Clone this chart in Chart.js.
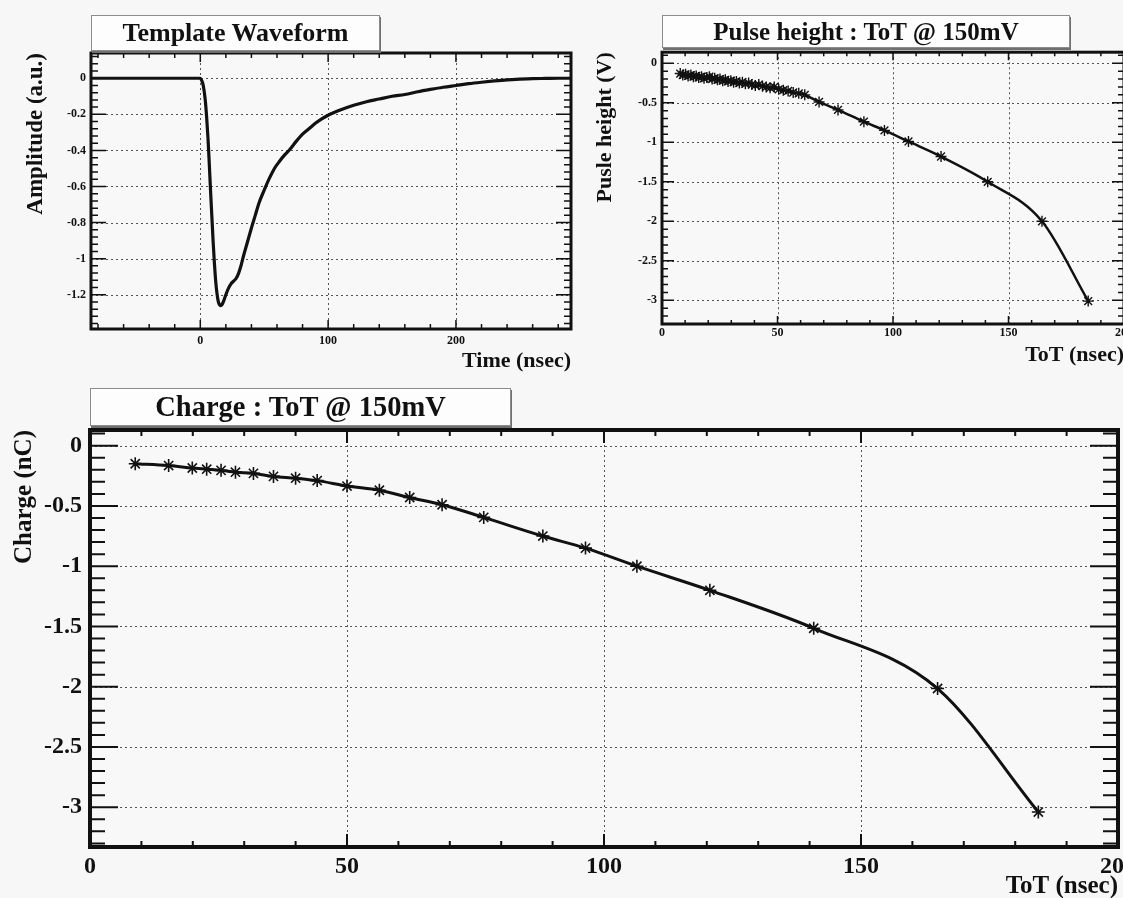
<!DOCTYPE html>
<html lang="en">
<head>
<meta charset="UTF-8">
<title>ToT calibration</title>
<script src="https://cdn.jsdelivr.net/npm/chart.js@4"></script>
<style>
    body { margin: 0; background: #f7f7f7; overflow: hidden; width: 1123px; height: 898px; position: relative; }
    .pad { position: absolute; }
    .tbox {
        position: absolute; box-sizing: border-box; z-index: 2;
        background: #fdfdfd; border: 1px solid #8c8c8c; box-shadow: 1px 2px 0 #707070;
        display: flex; align-items: center; justify-content: center;
        font-family: "Liberation Serif", serif; font-weight: bold; color: #111;
    }
</style>
</head>
<body>

<!-- titre des trois pads -->
<div class="tbox" style="left:91px;top:15px;width:289px;height:36px;font-size:26px">Template Waveform</div>
<div class="tbox" style="left:662px;top:15px;width:408px;height:33px;font-size:25px">Pulse height : ToT @ 150mV</div>
<div class="tbox" style="left:90px;top:388px;width:421px;height:38px;font-size:28.5px">Charge : ToT @ 150mV</div>

<div class="pad" style="left:0px;top:40px"><canvas id="cWave" width="590" height="340"></canvas></div>
<div class="pad" style="left:560px;top:40px"><canvas id="cPulse" width="620" height="340"></canvas></div>
<div class="pad" style="left:0px;top:380px"><canvas id="cCharge" width="1180" height="540"></canvas></div>

<script>
// --- data ---
// template waveform
const waveTime = [-85.5, -40, 0, 1, 2, 3, 4, 5, 6, 7, 8, 9, 10, 11, 12, 13, 14, 15, 16, 17, 18, 20, 22, 24, 26, 28,
    30, 32, 34, 36, 38, 40, 43, 46, 50, 54, 58, 62, 66, 70, 75, 80, 85, 90, 95, 100, 110, 120, 130, 140, 150,
    160, 170, 180, 190, 200, 210, 220, 230, 240, 250, 260, 270, 280, 290];
const waveAmp = [0, 0, 0, -0.01, -0.03, -0.07, -0.13, -0.22, -0.33, -0.47, -0.62, -0.76, -0.90, -1.02, -1.12, -1.19,
    -1.235, -1.255, -1.26, -1.255, -1.24, -1.20, -1.165, -1.14, -1.125, -1.11,
    -1.08, -1.035, -0.98, -0.93, -0.88, -0.83, -0.76, -0.69, -0.62, -0.555, -0.50, -0.46, -0.425, -0.395, -0.35,
    -0.31, -0.28, -0.25, -0.225, -0.205, -0.175, -0.15, -0.13, -0.115, -0.10,
    -0.09, -0.075, -0.062, -0.05, -0.04, -0.03, -0.022, -0.015, -0.009, -0.005, -0.002, -0.001, 0, 0];

// pulse height vs ToT
const pulseToT = [7.9, 9.0, 10.2, 11.3, 12.5, 13.6, 14.8, 15.9, 17.1, 18.2, 19.4, 20.5, 21.7, 22.8, 24.0, 25.1,
    26.3, 27.4, 28.6, 29.8, 31.0, 32.2, 33.5, 34.8, 36.1, 37.5, 38.9, 40.4, 41.9, 43.5, 45.1, 46.8, 48.6,
    50.5, 52.5, 54.6, 56.8, 59.2, 61.8, 68.0, 76.2, 87.4, 96.3, 106.7, 120.8, 141.0, 164.5, 184.5];
const pulseHeight = [-0.13, -0.15, -0.14, -0.16, -0.15, -0.17, -0.16, -0.18, -0.17, -0.19, -0.18, -0.17, -0.20,
    -0.19, -0.21, -0.20, -0.22, -0.21, -0.23, -0.22, -0.24, -0.23, -0.25, -0.24, -0.26, -0.25, -0.27, -0.28,
    -0.27, -0.29, -0.30, -0.31, -0.30, -0.33, -0.34, -0.35, -0.37, -0.38, -0.40, -0.49, -0.59, -0.74, -0.85,
    -0.99, -1.18, -1.50, -2.00, -3.01];

// charge vs ToT
const chargeToT = [8.8, 15.3, 19.9, 22.7, 25.5, 28.3, 31.8, 35.7, 40.0, 44.2, 50.0, 56.3, 62.2, 68.5, 76.6,
    88.1, 96.4, 106.4, 120.6, 140.8, 164.9, 184.5];
const charge = [-0.15, -0.165, -0.185, -0.195, -0.205, -0.22, -0.23, -0.255, -0.27, -0.29, -0.335, -0.37,
    -0.43, -0.49, -0.595, -0.75, -0.85, -1.0, -1.2, -1.515, -2.015, -3.04];

const serif = '"Liberation Serif", "Times New Roman", serif';
const ink = '#111';

function pts(xs, ys) {
    return xs.map((v, i) => ({ x: v, y: ys[i] }));
}

// format a la ROOT : 0, -0.2, -1 (pas de -1.0)
function fmt(v) {
    return String(+Number(v).toFixed(3));
}

function stepEach(min, max, step, fn) {
    for (let k = Math.ceil(min / step - 1e-9); k * step <= max + 1e-9; k++) fn(k * step);
}

function isMultiple(v, m) {
    return Math.abs(v / m - Math.round(v / m)) < 1e-6;
}

// cadre, grille pointillee et graduations interieures (style ROOT)
const rootFrame = {
    id: 'rootFrame',
    beforeDatasetsDraw(chart, args, o) {
        const { ctx, chartArea: a } = chart;
        const sx = chart.scales.x, sy = chart.scales.y;
        ctx.save();
        ctx.fillStyle = o.fill;
        ctx.fillRect(a.left, a.top, a.right - a.left, a.bottom - a.top);
        ctx.strokeStyle = o.gridColor;
        ctx.lineWidth = 1;
        ctx.setLineDash(o.dash);
        ctx.beginPath();
        sx.ticks.forEach(t => {
            const px = Math.round(sx.getPixelForValue(t.value)) + 0.5;
            ctx.moveTo(px, a.top); ctx.lineTo(px, a.bottom);
        });
        sy.ticks.forEach(t => {
            const py = Math.round(sy.getPixelForValue(t.value)) + 0.5;
            ctx.moveTo(a.left, py); ctx.lineTo(a.right, py);
        });
        ctx.stroke();
        ctx.restore();
    },
    afterDatasetsDraw(chart, args, o) {
        const { ctx, chartArea: a } = chart;
        const sx = chart.scales.x, sy = chart.scales.y;
        ctx.save();
        ctx.strokeStyle = ink;
        ctx.lineWidth = o.tickWidth;
        ctx.beginPath();
        stepEach(sx.min, sx.max, o.xMinor, v => {
            const len = isMultiple(v, o.xMajor) ? o.xMajorLen : o.xMinorLen;
            const px = sx.getPixelForValue(v);
            ctx.moveTo(px, a.bottom); ctx.lineTo(px, a.bottom - len);
            ctx.moveTo(px, a.top); ctx.lineTo(px, a.top + len);
        });
        stepEach(sy.min, sy.max, o.yMinor, v => {
            const len = isMultiple(v, o.yMajor) ? o.yMajorLen : o.yMinorLen;
            const py = sy.getPixelForValue(v);
            ctx.moveTo(a.left, py); ctx.lineTo(a.left + len, py);
            ctx.moveTo(a.right, py); ctx.lineTo(a.right - len, py);
        });
        ctx.stroke();
        ctx.lineWidth = o.frameWidth;
        ctx.strokeRect(a.left, a.top, a.right - a.left, a.bottom - a.top);
        ctx.restore();
    }
};

function axis(c) {
    return {
        type: 'linear',
        min: c.min,
        max: c.max,
        afterFit: c.fit,
        grid: { display: false, drawTicks: false },
        border: { display: false },
        ticks: {
            stepSize: c.step,
            includeBounds: false,
            autoSkip: false,
            maxRotation: 0,
            padding: c.tickPad,
            color: ink,
            font: { family: serif, size: c.tickSize, weight: 'bold' },
            callback: fmt
        },
        title: {
            display: true,
            text: c.title,
            align: 'end',
            color: ink,
            padding: c.titlePad,
            font: { family: serif, size: c.titleSize, weight: 'bold' }
        }
    };
}

function makePad(id, cfg) {
    new Chart(document.getElementById(id), {
        type: 'scatter',
        data: { datasets: [cfg.dataset] },
        options: {
            responsive: false,
            animation: false,
            events: [],
            layout: { padding: cfg.padding },
            scales: { x: axis(cfg.x), y: axis(cfg.y) },
            plugins: {
                legend: { display: false },
                tooltip: { enabled: false },
                rootFrame: cfg.frame
            }
        },
        plugins: [rootFrame]
    });
}

// --- Template Waveform ---
makePad('cWave', {
    padding: { top: 13, right: 19, bottom: 0, left: 0 },
    dataset: {
        data: pts(waveTime, waveAmp),
        showLine: true,
        pointRadius: 0,
        borderColor: ink,
        borderWidth: 3.2,
        cubicInterpolationMode: 'monotone'
    },
    x: { min: -85.5, max: 290, step: 100, fit: s => { s.height = 51; }, tickPad: 5, tickSize: 12,
         title: 'Time (nsec)', titleSize: 22, titlePad: { top: 0, bottom: 5 } },
    y: { min: -1.39, max: 0.14, step: 0.2, fit: s => { s.width = 91; }, tickPad: 5, tickSize: 12,
         title: 'Amplitude (a.u.)', titleSize: 23, titlePad: { top: 22, bottom: 0 } },
    frame: { fill: '#f8f8f8', gridColor: '#555', dash: [2, 3], tickWidth: 1.5, frameWidth: 3,
             xMajor: 100, xMinor: 20, xMajorLen: 9, xMinorLen: 5,
             yMajor: 0.2, yMinor: 0.04, yMajorLen: 15, yMinorLen: 7 }
});

// --- Pulse height : ToT ---
makePad('cPulse', {
    padding: { top: 12, right: 56, bottom: 0, left: 0 },
    dataset: {
        data: pts(pulseToT, pulseHeight),
        showLine: true,
        borderColor: ink,
        borderWidth: 2.5,
        cubicInterpolationMode: 'monotone',
        pointStyle: 'star',
        pointRadius: 5.5,
        pointBorderWidth: 1.4,
        pointBorderColor: ink,
        pointBackgroundColor: ink
    },
    x: { min: 0, max: 200, step: 50, fit: s => { s.height = 56; }, tickPad: 2, tickSize: 12,
         title: 'ToT (nsec)', titleSize: 22, titlePad: { top: 0, bottom: 11 } },
    y: { min: -3.3, max: 0.14, step: 0.5, fit: s => { s.width = 102; }, tickPad: 5, tickSize: 12,
         title: 'Pusle height (V)', titleSize: 22, titlePad: { top: 32, bottom: 0 } },
    frame: { fill: '#f8f8f8', gridColor: '#555', dash: [2, 3], tickWidth: 1.5, frameWidth: 3,
             xMajor: 50, xMinor: 10, xMajorLen: 8, xMinorLen: 4,
             yMajor: 0.5, yMinor: 0.1, yMajorLen: 12, yMinorLen: 6 }
});

// --- Charge : ToT ---
makePad('cCharge', {
    padding: { top: 50, right: 62, bottom: 0, left: 0 },
    dataset: {
        data: pts(chargeToT, charge),
        showLine: true,
        borderColor: ink,
        borderWidth: 3,
        cubicInterpolationMode: 'monotone',
        pointStyle: 'star',
        pointRadius: 6.5,
        pointBorderWidth: 1.6,
        pointBorderColor: ink,
        pointBackgroundColor: ink
    },
    x: { min: 0, max: 200, step: 50, fit: s => { s.height = 73; }, tickPad: 5, tickSize: 24,
         title: 'ToT (nsec)', titleSize: 25, titlePad: { top: 0, bottom: 18 } },
    y: { min: -3.33, max: 0.13, step: 0.5, fit: s => { s.width = 90; }, tickPad: 8, tickSize: 24,
         title: 'Charge (nC)', titleSize: 25, titlePad: { top: 10, bottom: 0 } },
    frame: { fill: '#f8f8f8', gridColor: '#555', dash: [2, 3], tickWidth: 2, frameWidth: 4,
             xMajor: 50, xMinor: 10, xMajorLen: 13, xMinorLen: 6,
             yMajor: 0.5, yMinor: 0.1, yMajorLen: 28, yMinorLen: 15 }
});
</script>
</body>
</html>
